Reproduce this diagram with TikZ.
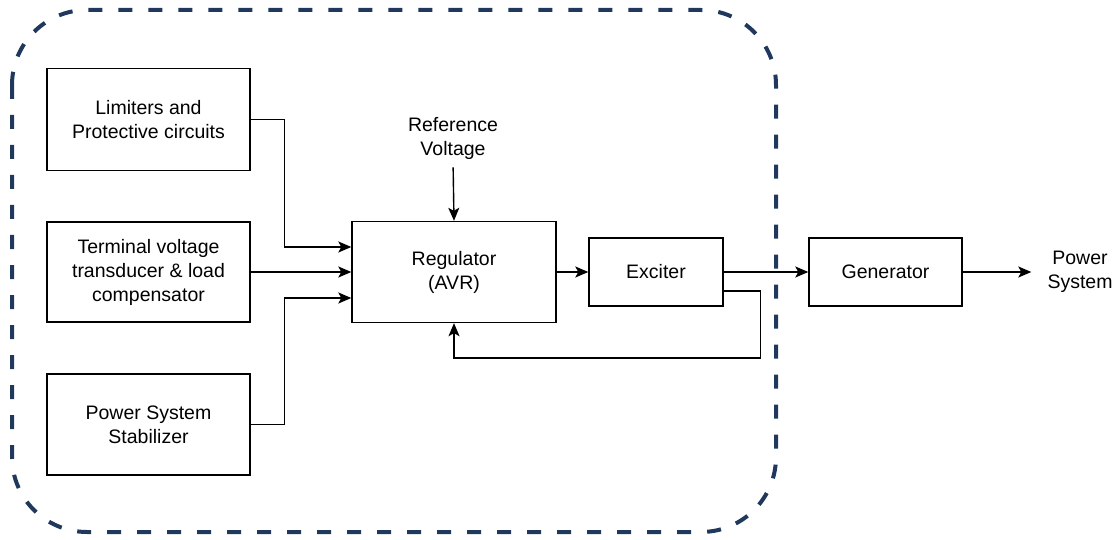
\documentclass[tikz,border=0pt]{standalone}
\usepackage{fontspec}
\setmainfont{Liberation Sans}
\usetikzlibrary{arrows.meta}
\definecolor{dashnavy}{RGB}{31,56,92}
\tikzset{
    blk/.style={draw, line width=1.4pt, inner sep=0pt, align=center},
    lbl/.style={inner sep=0pt, align=center},
    arr/.style={line width=1.4pt, -{Stealth[length=13pt,width=11pt,inset=3pt]}}
}

\begin{document}
\begin{tikzpicture}[x=1pt, y=-1pt, font=\fontsize{19.5}{24}\selectfont]
    \useasboundingbox (0,0) rectangle (1119,540);

    \draw[dashnavy, line width=4pt, dash pattern=on 14pt off 16pt, rounded corners=75pt]
        (12,10) rectangle (776,532);

    \node[blk, minimum width=203pt, minimum height=102pt] (lim) at (148.5,119.5) {Limiters and\\Protective circuits};
    \node[blk, minimum width=203pt, minimum height=100pt] (term) at (148.5,272) {Terminal voltage\\transducer \& load\\compensator};
    \node[blk, minimum width=203pt, minimum height=101pt] (pss) at (148.5,424.5) {Power System\\Stabilizer};
    \node[blk, minimum width=204pt, minimum height=101pt] (reg) at (454,272) {Regulator\\(AVR)};
    \node[blk, minimum width=134pt, minimum height=68pt] (exc) at (656,272) {Exciter};
    \node[blk, minimum width=153pt, minimum height=68pt] (gen) at (885.5,272) {Generator};
    \node[lbl] (ref) at (453,138) {Reference\\Voltage};
    \node[lbl] (pwr) at (1080,272) {Power\\System};

    \draw[arr] (lim.east) -- ++(34,0) |- ([yshift=25pt]reg.west);
    \draw[arr] (term.east) -- (reg.west);
    \draw[arr] (pss.east) -- ++(34,0) |- ([yshift=-26pt]reg.west);
    \draw[arr, shorten <=8pt] (ref.south) -- (reg.north);
    \draw[arr] (reg.east) -- (exc.west);
    \draw[arr] (exc.east) -- (gen.west);
    \draw[arr, shorten >=16pt] (gen.east) -- (pwr.west);
    \draw[arr] ([yshift=-19pt]exc.east) -- ++(37,0) -- ++(0,67) -| (reg.south);
\end{tikzpicture}
\end{document}
